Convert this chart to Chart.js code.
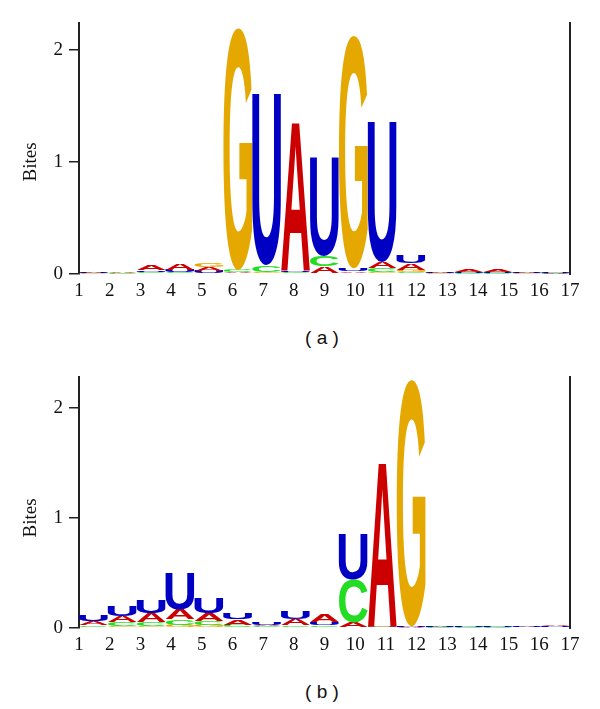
<!DOCTYPE html>
<html>
<head>
<meta charset="utf-8">
<script src="https://cdn.jsdelivr.net/npm/chart.js@4.4.1/dist/chart.umd.min.js"></script>
<style>
  html, body { margin: 0; padding: 0; background: #fff; }
  body { width: 600px; height: 709px; position: relative; overflow: hidden; }
  .panel { position: absolute; left: 0; width: 600px; height: 310px; }
  .cap { position: absolute; width: 600px; left: 22px; text-align: center;
         font: 19px "Liberation Sans", Arial, sans-serif; color: #111; white-space: pre; }
</style>
</head>
<body>
<div class="panel" style="top:0px"><canvas id="chartA" width="600" height="310"></canvas></div>
<div class="cap" style="top:327px">( a )</div>
<div class="panel" style="top:354px"><canvas id="chartB" width="600" height="310"></canvas></div>
<div class="cap" style="top:681px">( b )</div>
<script>
// ---- data ----
const positions = ['1','2','3','4','5','6','7','8','9','10','11','12','13','14','15','16','17'];
const yTicks = [0, 1, 2];
const letters = ['A', 'C', 'G', 'U'];

// Panel (a) information content per nucleotide (bits)
const A_a = [0.008,0.010,0.050,0.055,0.030,0.010,0.010,1.330,0.060,0.015,0.055,0.055,0.008,0.020,0.020,0.008,0.006];
const C_a = [0.003,0.002,0.012,0.012,0.010,0.020,0.060,0.008,0.090,0.010,0.035,0.020,0.003,0.005,0.005,0.003,0.002];
const G_a = [0.002,0.002,0.010,0.008,0.035,2.160,0.010,0.007,0.010,2.080,0.020,0.020,0.002,0.004,0.004,0.002,0.002];
const U_a = [0.012,0.004,0.015,0.020,0.020,0.006,1.530,0.015,0.880,0.025,1.250,0.065,0.010,0.010,0.010,0.010,0.012];

// Panel (b)
const A_b = [0.035,0.060,0.080,0.090,0.070,0.050,0.015,0.060,0.070,0.045,1.500,0.005,0.006,0.004,0.004,0.006,0.010];
const C_b = [0.015,0.030,0.035,0.050,0.040,0.020,0.010,0.015,0.015,0.390,0.005,0.003,0.002,0.002,0.002,0.003,0.003];
const G_b = [0.010,0.020,0.020,0.030,0.025,0.010,0.005,0.010,0.010,0.005,0.010,2.240,0.004,0.002,0.002,0.003,0.004];
const U_b = [0.060,0.090,0.120,0.330,0.140,0.060,0.020,0.075,0.025,0.410,0.005,0.008,0.006,0.008,0.008,0.010,0.008];

const letterColors = { A: '#CC0000', C: '#22DD22', G: '#E4A800', U: '#0000C4' };

// ---- build rank-ordered stacked datasets (smallest at the bottom) ----
function buildDatasets(series) {
  const n = positions.length;
  const ranks = letters.map(() => ({ data: [], letter: [] }));
  for (let i = 0; i < n; i++) {
    const col = letters.map((L, k) => ({ L, v: series[k][i] }));
    col.sort((p, q) => p.v - q.v);
    col.forEach((e, r) => { ranks[r].data.push(e.v); ranks[r].letter.push(e.L); });
  }
  return ranks.map((r, idx) => ({
    label: 'rank' + idx,
    data: r.data,
    letters: r.letter,
    backgroundColor: 'rgba(0,0,0,0)',
    borderWidth: 0,
    barPercentage: 1.0,
    categoryPercentage: 1.0,
    xAxisID: 'x',
    yAxisID: 'y'
  }));
}

// ---- plugin: draw stretched letters into each bar rectangle ----
const logoPlugin = {
  id: 'logoLetters',
  afterDatasetsDraw(chart) {
    const ctx = chart.ctx;
    chart.data.datasets.forEach((ds, di) => {
      const meta = chart.getDatasetMeta(di);
      meta.data.forEach((el, i) => {
        const p = el.getProps(['x', 'y', 'base', 'width'], true);
        const top = Math.min(p.y, p.base), bot = Math.max(p.y, p.base);
        const h = bot - top;
        if (h < 0.4) return;
        const ch = ds.letters[i];
        ctx.save();
        ctx.font = 'bold 100px "Liberation Sans", Arial, sans-serif';
        ctx.textBaseline = 'alphabetic';
        ctx.textAlign = 'left';
        const m = ctx.measureText(ch);
        const gw = m.actualBoundingBoxLeft + m.actualBoundingBoxRight;
        const gh = m.actualBoundingBoxAscent + m.actualBoundingBoxDescent;
        const x0 = p.x - p.width / 2;
        ctx.translate(x0, top);
        ctx.scale(p.width / gw, h / gh);
        ctx.fillStyle = letterColors[ch];
        ctx.fillText(ch, m.actualBoundingBoxLeft, m.actualBoundingBoxAscent);
        ctx.restore();
      });
    });
    // y-axis title "Bites", placed beside the value 1 tick
    const ys = chart.scales.y;
    ctx.save();
    ctx.translate(31, ys.getPixelForValue(1));
    ctx.rotate(-Math.PI / 2);
    ctx.font = '19px "Liberation Serif", "Times New Roman", serif';
    ctx.fillStyle = '#111';
    ctx.textAlign = 'center';
    ctx.textBaseline = 'middle';
    ctx.fillText('Bites', 0, 0);
    ctx.restore();
  }
};

function makeChart(id, series, yMax) {
  const serif = { family: '"Liberation Serif", "Times New Roman", serif', size: 19 };
  return new Chart(document.getElementById(id), {
    type: 'bar',
    data: { labels: positions, datasets: buildDatasets(series) },
    options: {
      responsive: false,
      animation: false,
      events: [],
      layout: { padding: { left: 0, right: 30, top: 23, bottom: 0 } },
      plugins: { legend: { display: false }, tooltip: { enabled: false } },
      scales: {
        x: {
          type: 'category',
          stacked: true,
          display: false,
          offset: true
        },
        x2: {
          type: 'category',
          position: 'bottom',
          labels: positions,
          offset: false,
          grid: { display: false, drawTicks: false },
          border: { display: false },
          ticks: { font: serif, color: '#111', padding: 6, maxRotation: 0, autoSkip: false },
          afterFit(scale) { scale.height = 36; }
        },
        y: {
          type: 'linear',
          stacked: true,
          position: 'left',
          min: 0,
          max: yMax,
          afterBuildTicks(scale) { scale.ticks = yTicks.map(v => ({ value: v })); },
          ticks: { font: serif, color: '#111', padding: 6, includeBounds: false },
          grid: { display: true, drawOnChartArea: false, drawTicks: true, tickLength: 10, color: '#222', lineWidth: 1.5 },
          border: { display: true, color: '#222', width: 2 },
          afterFit(scale) { scale.width = 79; }
        },
        yR: {
          type: 'linear',
          position: 'right',
          min: 0,
          max: yMax,
          ticks: { display: false },
          grid: { display: false, drawTicks: false },
          border: { display: true, color: '#222', width: 2 },
          afterFit(scale) { scale.width = 0; }
        }
      }
    },
    plugins: [logoPlugin]
  });
}

makeChart('chartA', [A_a, C_a, G_a, U_a], 2.24);
makeChart('chartB', [A_b, C_b, G_b, U_b], 2.28);
</script>
</body>
</html>
